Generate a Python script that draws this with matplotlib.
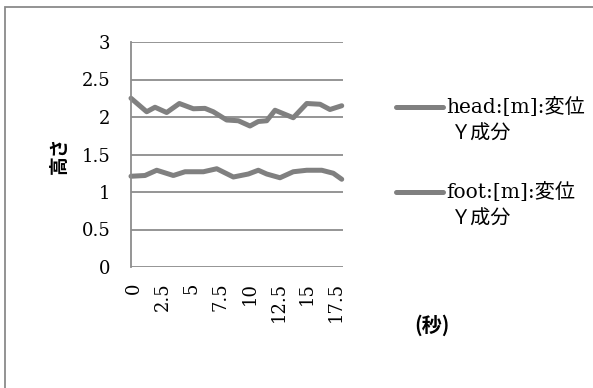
import matplotlib
matplotlib.use("Agg")
import matplotlib.pyplot as plt
import matplotlib.transforms as mtransforms
from matplotlib.lines import Line2D
from matplotlib.patches import Rectangle

# time [s] and vertical displacement [m]
head_t = [0.0, 1.36, 2.08, 3.09, 4.19, 5.40, 6.41, 7.13, 8.29, 9.30,
          10.31, 11.03, 11.76, 12.48, 14.06, 15.23, 16.38, 17.24, 18.26]
head_y = [2.25, 2.07, 2.13, 2.06, 2.18, 2.11, 2.115, 2.07, 1.96, 1.95,
          1.88, 1.94, 1.95, 2.09, 1.99, 2.18, 2.17, 2.10, 2.15]

foot_t = [0.0, 1.21, 2.23, 3.67, 4.68, 6.27, 7.43, 8.87, 10.17, 11.03,
          11.76, 12.91, 14.06, 15.23, 16.53, 17.53, 18.26]
foot_y = [1.21, 1.22, 1.29, 1.22, 1.27, 1.27, 1.31, 1.20, 1.24, 1.29,
          1.24, 1.19, 1.27, 1.29, 1.29, 1.25, 1.17]

series_names = ["head:[m]:変位\nＹ成分", "foot:[m]:変位\nＹ成分"]
y_ticks = [0, 0.5, 1, 1.5, 2, 2.5, 3]
x_ticks = [0, 2.5, 5, 7.5, 10, 12.5, 15, 17.5]
x_tick_labels = ["0", "2.5", "5", "7.5", "10", "12.5", "15", "17.5"]

serif_cjk = ["DejaVu Serif", "Noto Sans CJK JP"]
gothic = ["Noto Sans CJK JP", "DejaVu Sans"]
line_color = "#808080"
grid_color = "#8c8c8c"

W, H = 593, 388
fig = plt.figure(figsize=(W / 100, H / 100), dpi=100)

# outer frame (only top and left edges fall inside the canvas)
fig.patches.append(Rectangle((4.5 / W, -0.1), 1.2, (H - 7) / H + 0.1,
                             transform=fig.transFigure, fill=False,
                             edgecolor="#8a8a8a", linewidth=1.3))

ax = fig.add_axes([131 / W, 1 - 267 / H, 212 / W, 225 / H])
ax.set_xlim(0, 18.37)
ax.set_ylim(0, 3)
ax.set_yticks(y_ticks)
ax.set_yticklabels([f"{v:g}" for v in y_ticks], family=serif_cjk, fontsize=13)
ax.set_xticks(x_ticks)
ax.set_xticklabels(x_tick_labels, family=serif_cjk, fontsize=13, rotation=90)
ax.tick_params(axis="both", length=0)
ax.tick_params(axis="y", pad=15)
ax.tick_params(axis="x", pad=11)
shift = mtransforms.ScaledTranslation(3 / 100, 0, fig.dpi_scale_trans)
for lbl in ax.get_xticklabels():
    lbl.set_transform(lbl.get_transform() + shift)
ax.yaxis.grid(True, color=grid_color, linewidth=1.3)
ax.set_axisbelow(True)
for side in ("top", "right", "bottom"):
    ax.spines[side].set_visible(False)
ax.spines["left"].set_color(grid_color)
ax.spines["left"].set_linewidth(1.3)

lw = 3.6
ax.plot(head_t, head_y, color=line_color, linewidth=lw,
        solid_joinstyle="round", solid_capstyle="round", clip_on=False)
ax.plot(foot_t, foot_y, color=line_color, linewidth=lw,
        solid_joinstyle="round", solid_capstyle="round", clip_on=False)

# axis titles
fig.text(59 / W, 1 - 155 / H, "高さ", family=gothic, fontsize=13.5,
         fontweight="bold", rotation=90, ha="center", va="center")
fig.text(432 / W, 1 - 325 / H, "(秒)", family=gothic, fontsize=14.5,
         fontweight="bold", ha="center", va="center")

# legend drawn beside the plot
legend_rows = [106.5, 191.5]
for name, ypix in zip(series_names, legend_rows):
    yf = 1 - ypix / H
    fig.add_artist(Line2D([396 / W, 443 / W], [yf, yf], transform=fig.transFigure,
                          color=line_color, linewidth=lw, solid_capstyle="round"))
    first, second = name.split("\n")
    fig.text(446 / W, yf, first, family=serif_cjk, fontsize=14.5,
             va="center", ha="left")
    fig.text(451 / W, 1 - (ypix + 28) / H, second, family=serif_cjk, fontsize=14.5,
             va="center", ha="left")

fig.savefig("out.png", dpi=100, facecolor="white")
